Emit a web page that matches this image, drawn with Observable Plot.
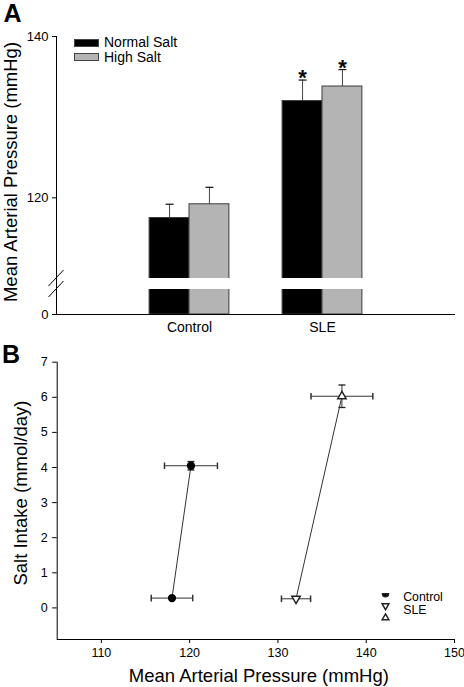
<!DOCTYPE html>
<html>
<head>
<meta charset="utf-8">
<script src="https://cdn.jsdelivr.net/npm/d3@7"></script>
<script src="https://cdn.jsdelivr.net/npm/@observablehq/plot@0.6"></script>
<style>
  body { margin: 0; background: #fff; }
  #wrap { position: relative; width: 464px; height: 687px; overflow: hidden;
          font-family: "Liberation Sans", Arial, Helvetica, sans-serif; }
  #wrap svg { position: absolute; left: 0; }
</style>
</head>
<body>
<div id="wrap"></div>
<script>
const fontFamily = '"Liberation Sans", Arial, Helvetica, sans-serif';

// ---------- Panel A data ----------
const groups = ["Control", "SLE"];
const diets = ["Normal Salt", "High Salt"];
const dietColors = ["#000000", "#b4b4b4"];
const mapNormalSalt = [117.5, 132.0];
const mapHighSalt = [119.2, 133.8];
const seNormalSalt = [1.7, 2.6];
const seHighSalt = [2.1, 2.1];
const sigNormalSalt = [false, true];
const sigHighSalt = [false, true];
const yTicksA = [0, 120, 140];
const yBreakA = [3, 110];
const yMaxA = 140;
const yTitleA = "Mean Arterial Pressure (mmHg)";

// ---------- Panel B data ----------
const seriesB = ["Control", "SLE"];
const controlMAP = [118.0, 120.15];
const controlMAPse = [2.35, 3.0];
const controlSalt = [0.28, 4.05];
const controlSaltSe = [0, 0.12];
const sleMAP = [132.05, 137.25];
const sleMAPse = [1.65, 3.5];
const sleSalt = [0.26, 6.03];
const sleSaltSe = [0, 0.32];
const xTicksB = [110, 120, 130, 140, 150];
const yTicksB = [0, 1, 2, 3, 4, 5, 6, 7];
const xDomainB = [105, 150];
const yDomainB = [-0.9, 7];
const xTitleB = "Mean Arterial Pressure (mmHg)";
const yTitleB = "Salt Intake (mmol/day)";

// ---------- custom symbols ----------
const hCap = {draw(ctx, size) { const r = Math.sqrt(size / Math.PI); ctx.moveTo(-r, 0); ctx.lineTo(r, 0); }};
const vCap = {draw(ctx, size) { const r = Math.sqrt(size / Math.PI); ctx.moveTo(0, -r); ctx.lineTo(0, r); }};
const triangleDown = {draw(ctx, size) {
  d3.symbolTriangle.draw({
    moveTo: (x, y) => ctx.moveTo(x, -y),
    lineTo: (x, y) => ctx.lineTo(x, -y),
    closePath: () => ctx.closePath()
  }, size);
}};
const halfDisk = {draw(ctx, size) {
  const r = Math.sqrt(size / Math.PI);
  ctx.moveTo(-r, 0); ctx.lineTo(r, 0); ctx.arc(0, 0, r, 0, Math.PI); ctx.closePath();
}};

const wrap = document.getElementById("wrap");

// ================= Panel A =================
const barW = 0.3;
const bars = groups.flatMap((g, i) => [
  {group: g, diet: diets[0], pos: i + 1, side: -1, value: mapNormalSalt[i], se: seNormalSalt[i], sig: sigNormalSalt[i]},
  {group: g, diet: diets[1], pos: i + 1, side: 1, value: mapHighSalt[i], se: seHighSalt[i], sig: sigHighSalt[i]}
]);
const bx1 = d => d.side < 0 ? d.pos - barW : d.pos;
const bx2 = d => d.side < 0 ? d.pos : d.pos + barW;
const bxc = d => d.pos + d.side * barW / 2;
const btop = d => d.value + d.se;

const hA = 330, mtA = 36, mbA = 16;
const yBottomA = hA - mbA;

const breakMarks = (index, scales) => {
  const g = d3.create("svg:g").attr("stroke", "#000").attr("stroke-width", 1);
  const x0 = scales.x(0);
  for (const v of yBreakA) {
    const y = scales.y(v);
    g.append("line").attr("x1", x0 - 7.5).attr("y1", y + 8).attr("x2", x0 + 7.5).attr("y2", y - 8);
  }
  return g.node();
};

const plotA = Plot.plot({
  width: 464, height: hA,
  marginLeft: 56, marginRight: 9, marginTop: mtA, marginBottom: mbA,
  style: {fontFamily, background: "transparent", overflow: "visible"},
  x: {type: "linear", domain: [0, groups.length + 1]},
  y: {type: "linear", domain: [0, yBreakA[0], yBreakA[1], yMaxA],
      range: [yBottomA, yBottomA - 25, yBottomA - 36, mtA]},
  color: {domain: diets, range: dietColors},
  marks: [
    Plot.rect(bars, {x1: bx1, x2: bx2, y1: 0, y2: "value", fill: "diet", stroke: "#3c3c3c", strokeWidth: 1}),
    Plot.rect(bars, {x1: bx1, x2: bx2, y1: yBreakA[0], y2: yBreakA[1], fill: "white", insetLeft: -2, insetRight: -2}),
    Plot.ruleX(bars, {x: bxc, y1: "value", y2: btop, stroke: "#444", strokeWidth: 1}),
    Plot.dot(bars, {x: bxc, y: btop, symbol: hCap, r: 4, stroke: "#222", fill: "none", strokeWidth: 1.3}),
    Plot.text(bars.filter(d => d.sig), {x: bxc, y: btop, text: () => "*", fontSize: 22, fontWeight: "bold", lineAnchor: "bottom", dy: 5}),
    Plot.ruleX([0], {y1: 0, y2: yMaxA, stroke: "#000"}),
    Plot.ruleY([0], {x1: 0, x2: groups.length + 1, stroke: "#000"}),
    breakMarks,
    Plot.axisY({ticks: yTicksA, tickSize: 4, tickPadding: 4, fontSize: 13, label: null}),
    Plot.axisX({ticks: groups.map((g, i) => i + 1), tickFormat: v => groups[v - 1], tickSize: 0, tickPadding: 8, fontSize: 14, label: null}),
    Plot.text([yTitleA], {frameAnchor: "left", textAnchor: "middle", rotate: -90, dx: -45.3, dy: -3.5, fontSize: 18.5}),
    Plot.text(["A"], {frameAnchor: "top-left", textAnchor: "start", lineAnchor: "bottom", dx: -53, dy: -15, fontSize: 25, fontWeight: "bold"})
  ]
});
plotA.style.top = "0px";
wrap.appendChild(plotA);

// legend A (HTML)
diets.forEach((name, i) => {
  const sw = document.createElement("div");
  sw.style.cssText = `position:absolute;left:74px;top:${39 + i * 14}px;width:25px;height:8px;box-sizing:border-box;border:1px solid #444;background:${dietColors[i]};`;
  wrap.appendChild(sw);
  const lb = document.createElement("div");
  lb.textContent = name;
  lb.style.cssText = `position:absolute;left:104px;top:${34.4 + i * 15}px;font-size:14px;line-height:16px;white-space:nowrap;color:#000;`;
  wrap.appendChild(lb);
});

// ================= Panel B =================
const ptsB = [
  ...controlMAP.map((m, i) => ({series: seriesB[0], level: i, map: m, mapSe: controlMAPse[i], salt: controlSalt[i], saltSe: controlSaltSe[i]})),
  ...sleMAP.map((m, i) => ({series: seriesB[1], level: i, map: m, mapSe: sleMAPse[i], salt: sleSalt[i], saltSe: sleSaltSe[i]}))
];
const withYErr = ptsB.filter(d => d.saltSe > 0);
const legendRows = [...seriesB, ""];
const legendSymbols = [halfDisk, triangleDown, "triangle"];

const plotB = Plot.plot({
  width: 464, height: 357,
  marginLeft: 56.7, marginRight: 10, marginTop: 31.7, marginBottom: 48,
  style: {fontFamily, background: "transparent", overflow: "visible"},
  x: {type: "linear", domain: xDomainB},
  y: {type: "linear", domain: yDomainB},
  marks: [
    Plot.line(ptsB, {x: "map", y: "salt", z: "series", stroke: "#333", strokeWidth: 1}),
    Plot.ruleY(ptsB, {y: "salt", x1: d => d.map - d.mapSe, x2: d => d.map + d.mapSe, stroke: "#333"}),
    Plot.dot(ptsB, {x: d => d.map - d.mapSe, y: "salt", symbol: vCap, r: 3.3, stroke: "#333", fill: "none"}),
    Plot.dot(ptsB, {x: d => d.map + d.mapSe, y: "salt", symbol: vCap, r: 3.3, stroke: "#333", fill: "none"}),
    Plot.ruleX(withYErr, {x: "map", y1: d => d.salt - d.saltSe, y2: d => d.salt + d.saltSe, stroke: "#333"}),
    Plot.dot(withYErr, {x: "map", y: d => d.salt - d.saltSe, symbol: hCap, r: 3.5, stroke: "#222", fill: "none", strokeWidth: 1.3}),
    Plot.dot(withYErr, {x: "map", y: d => d.salt + d.saltSe, symbol: hCap, r: 3.5, stroke: "#222", fill: "none", strokeWidth: 1.3}),
    Plot.dot(ptsB.filter(d => d.series === seriesB[0]), {x: "map", y: "salt", r: 3.4, fill: "#000", stroke: "#000"}),
    Plot.dot(ptsB.filter(d => d.series === seriesB[1] && d.level === 0), {x: "map", y: "salt", symbol: triangleDown, r: 3.1, fill: "white", stroke: "#222"}),
    Plot.dot(ptsB.filter(d => d.series === seriesB[1] && d.level === 1), {x: "map", y: "salt", symbol: "triangle", r: 3.1, fill: "white", stroke: "#222"}),
    Plot.ruleX([xDomainB[0]], {y1: yDomainB[0], y2: yDomainB[1], stroke: "#000"}),
    Plot.ruleY([yDomainB[0]], {x1: xDomainB[0], x2: xDomainB[1], stroke: "#000"}),
    Plot.axisX({ticks: xTicksB, tickSize: 4, tickPadding: 5, fontSize: 12.5, label: null}),
    Plot.axisY({ticks: yTicksB, tickSize: 4.5, tickPadding: 5, fontSize: 12.5, label: null}),
    Plot.text([yTitleB], {frameAnchor: "left", textAnchor: "middle", rotate: -90, dx: -36.6, dy: -7.8, fontSize: 18.5}),
    Plot.text([xTitleB], {frameAnchor: "bottom", textAnchor: "middle", lineAnchor: "bottom", dx: 3, dy: 42.5, fontSize: 18.5}),
    Plot.text(["B"], {frameAnchor: "top-left", textAnchor: "start", lineAnchor: "bottom", dx: -55.2, dy: 0.3, fontSize: 25, fontWeight: "bold"}),
    // legend B
    ...legendRows.map((name, i) => Plot.dot([name], {frameAnchor: "top-left", dx: 328.3, dy: 231.6 + i * 12, symbol: legendSymbols[i], r: i === 0 ? 3 : 2.5, fill: i === 0 ? "#000" : "white", stroke: "#222"})),
    ...seriesB.map((name, i) => Plot.text([name], {frameAnchor: "top-left", textAnchor: "start", dx: 346, dy: 230.4 + i * 13, fontSize: 12.3}))
  ]
});
plotB.style.top = "330px";
wrap.appendChild(plotB);
</script>
</body>
</html>
